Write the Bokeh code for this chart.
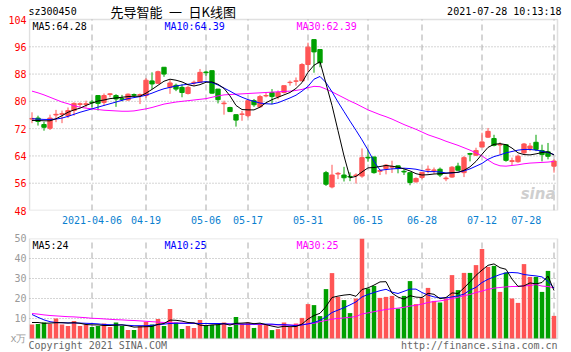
from bokeh.plotting import figure
from bokeh.models import (ColumnDataSource, Range1d, LinearAxis, FixedTicker, Label,
                          BoxAnnotation)
from bokeh.layouts import column
from bokeh.embed import file_html
from bokeh.resources import INLINE

# ---------------- data ----------------
opens = [74.8, 75.1, 73.2, 72.1, 76.0, 76.2, 75.8, 77.3, 79.1, 79.1,
         79.8, 81.7, 79.7, 82.0, 81.7, 80.8, 80.4, 82.0, 81.8, 81.7,
         86.0, 85.3, 90.0, 84.1, 84.7, 84.1, 82.3, 85.4, 85.6, 88.6,
         89.0, 83.6, 79.3, 78.2, 76.1, 76.2, 75.8, 80.2, 78.4, 81.6,
         82.6, 81.4, 82.6, 85.5, 85.9, 86.0, 90.8, 98.1, 95.2, 59.1,
         54.9, 58.7, 58.4, 58.0, 58.2, 58.1, 63.6, 63.7, 59.5, 60.3,
         60.7, 61.1, 59.5, 59.1, 56.4, 57.7, 59.9, 59.7, 60.1, 57.3,
         57.8, 61.0, 59.1, 64.7, 64.2, 66.6, 69.5, 69.1, 67.2, 67.3,
         62.4, 62.3, 64.9, 66.2, 68.0, 65.6, 65.2, 61.0]
highs = [76.8, 75.8, 74.0, 76.1, 77.5, 77.3, 78.2, 79.7, 79.7, 80.2,
         80.4, 81.7, 82.3, 82.4, 82.1, 81.9, 82.3, 82.3, 82.3, 86.8,
         88.5, 89.0, 90.0, 86.3, 85.2, 85.0, 84.6, 86.1, 89.5, 89.0,
         89.0, 83.6, 80.2, 78.4, 76.1, 77.2, 80.2, 80.7, 81.9, 82.6,
         83.6, 83.2, 84.6, 86.1, 87.0, 91.2, 97.2, 98.1, 95.2, 59.6,
         61.4, 59.3, 60.8, 59.2, 58.9, 66.2, 65.8, 63.7, 60.1, 61.6,
         62.6, 61.1, 60.1, 59.1, 57.7, 59.2, 61.2, 60.6, 60.6, 58.0,
         61.0, 62.0, 64.0, 64.9, 66.4, 70.8, 72.2, 70.2, 68.0, 67.3,
         63.5, 64.4, 67.8, 67.8, 70.2, 67.3, 67.8, 63.0]
lows = [73.6, 72.9, 71.4, 71.6, 73.9, 73.6, 75.1, 75.8, 78.2, 78.2,
        78.2, 77.3, 78.7, 81.2, 78.4, 80.0, 80.2, 81.2, 79.2, 81.0,
        83.6, 85.1, 87.2, 82.2, 83.0, 81.2, 82.0, 84.6, 85.6, 87.5,
        82.3, 79.4, 76.1, 76.9, 72.6, 74.3, 75.3, 78.4, 78.2, 81.2,
        79.2, 80.6, 82.3, 84.6, 84.6, 86.0, 88.6, 88.4, 90.0, 55.2,
        54.5, 57.2, 56.5, 56.6, 55.9, 57.6, 62.3, 58.8, 58.4, 58.6,
        59.0, 58.9, 58.4, 55.4, 56.2, 57.2, 58.9, 58.8, 57.8, 56.6,
        57.6, 59.7, 57.8, 62.4, 64.0, 66.6, 69.3, 66.8, 64.4, 62.3,
        61.3, 62.0, 64.4, 65.4, 65.4, 62.4, 63.0, 59.1]
closes = [75.0, 74.1, 72.4, 75.1, 76.2, 76.4, 77.3, 79.4, 79.3, 79.3,
          79.6, 79.4, 81.7, 82.2, 80.7, 80.6, 82.1, 81.8, 82.0, 86.2,
          85.1, 88.7, 88.0, 85.4, 83.6, 82.6, 84.1, 85.6, 88.5, 88.4,
          82.4, 80.5, 79.5, 77.0, 74.5, 76.3, 80.2, 79.0, 81.4, 81.7,
          81.4, 82.6, 84.6, 85.6, 86.0, 90.8, 95.9, 94.5, 91.3, 55.7,
          58.4, 58.9, 57.6, 57.8, 58.4, 63.5, 63.4, 59.1, 59.7, 61.3,
          60.9, 60.3, 59.3, 56.2, 57.4, 59.2, 60.1, 59.9, 58.4, 57.5,
          60.7, 59.8, 63.5, 64.5, 65.6, 68.1, 71.2, 67.1, 67.4, 62.7,
          62.6, 63.9, 67.5, 66.9, 65.9, 64.4, 63.9, 62.5]
ma5 = [74.4, 74.4, 74.3, 74.3, 74.9, 75.8, 76.8, 77.5, 78.0, 78.8,
       79.5, 80.1, 80.4, 80.8, 81.0, 81.2, 81.4, 81.5, 81.5, 82.4,
       83.5, 84.7, 85.9, 86.5, 86.2, 85.7, 84.9, 84.5, 84.9, 85.6,
       85.7, 85.0, 83.8, 81.6, 78.8, 77.6, 77.5, 77.5, 78.3, 79.6,
       80.5, 81.2, 81.9, 82.6, 83.8, 85.5, 88.5, 90.6, 91.6, 85.2,
       78.8, 71.4, 64.0, 57.6, 58.0, 59.3, 60.5, 60.6, 60.9, 61.2,
       61.0, 60.7, 60.2, 59.6, 58.8, 58.4, 58.5, 58.7, 58.8, 58.9,
       59.1, 59.2, 59.8, 60.8, 62.4, 64.5, 66.5, 67.4, 67.6, 67.3,
       66.3, 64.9, 64.4, 64.3, 64.6, 65.0, 65.2, 64.28]
ma10 = [74.9, 74.8, 74.7, 74.7, 74.8, 75.1, 75.6, 76.2, 76.8, 77.3,
        77.8, 78.3, 78.8, 79.3, 79.8, 80.3, 80.8, 81.1, 81.4, 81.8,
        82.4, 83.1, 83.7, 84.1, 84.5, 84.8, 85.0, 85.3, 85.6, 85.8,
        85.5, 84.8, 83.9, 83.0, 82.0, 81.2, 80.5, 80.0, 79.5, 79.3,
        79.2, 79.6, 80.3, 81.0, 81.8, 83.0, 84.4, 86.5, 87.3, 85.5,
        82.8, 79.8, 77.0, 74.2, 71.5, 68.7, 65.7, 62.4, 59.8, 60.0,
        60.2, 60.3, 60.4, 60.3, 60.1, 59.7, 59.4, 59.4, 59.3, 59.0,
        59.0, 59.2, 59.6, 60.2, 61.0, 61.8, 63.0, 63.8, 64.3, 64.9,
        65.3, 65.7, 65.9, 65.9, 65.7, 65.4, 65.0, 64.39]
ma30 = [83.0, 82.5, 81.9, 81.2, 80.5, 79.8, 79.3, 78.7, 78.3, 78.0,
        77.8, 77.6, 77.4, 77.3, 77.2, 77.1, 77.1, 77.2, 77.5, 77.8,
        78.2, 78.7, 79.2, 79.5, 79.8, 80.0, 80.2, 80.4, 80.6, 80.8,
        81.2, 81.6, 81.9, 82.0, 82.1, 82.2, 82.3, 82.4, 82.5, 82.6,
        82.7, 82.8, 82.9, 83.0, 83.2, 83.5, 84.0, 84.4, 84.3, 83.6,
        82.8, 81.9, 81.0, 80.1, 79.3, 78.4, 77.5, 76.8, 76.1, 75.5,
        74.8, 74.0, 73.2, 72.5, 71.8, 71.0, 70.2, 69.6, 69.0, 68.3,
        67.7, 67.1, 66.4, 65.7, 64.9, 64.0, 62.8, 61.7, 61.1, 61.0,
        61.2, 61.4, 61.7, 61.9, 62.0, 62.1, 62.2, 62.39]
volumes = [7.0, 7.3, 8.0, 7.3, 10.0, 7.0, 6.3, 8.7, 6.2, 7.0,
           5.7, 6.3, 7.5, 5.8, 8.0, 6.3, 4.2, 4.2, 6.3, 8.3,
           7.0, 9.7, 6.3, 14.7, 8.0, 4.7, 6.3, 5.3, 9.2, 6.3,
           6.7, 7.0, 8.0, 5.7, 10.7, 7.3, 8.0, 5.3, 7.0, 6.7,
           4.2, 4.7, 8.0, 5.7, 7.5, 10.3, 17.2, 16.7, 11.2, 24.7,
           32.7, 20.8, 19.2, 12.7, 20.0, 50.0, 25.0, 26.3, 20.3, 20.8,
           21.3, 15.0, 21.3, 28.7, 17.2, 20.3, 25.3, 18.8, 18.0, 20.0,
           31.7, 24.2, 32.8, 32.8, 36.7, 44.7, 35.8, 36.3, 23.3, 33.0,
           20.0, 17.8, 37.2, 30.8, 30.8, 23.3, 33.8, 11.3]
vma5 = [8.0, 8.0, 7.6, 7.7, 7.9, 7.9, 7.7, 7.9, 7.6, 7.0,
        6.8, 6.8, 6.5, 6.5, 6.7, 6.8, 6.4, 5.7, 5.8, 5.9,
        6.0, 7.1, 7.5, 9.2, 9.1, 8.7, 8.0, 7.8, 6.7, 6.4,
        6.8, 6.9, 7.4, 6.7, 7.6, 7.7, 7.9, 7.4, 7.7, 6.9,
        6.2, 5.6, 6.1, 5.9, 6.0, 7.2, 9.7, 11.5, 12.6, 16.0,
        20.5, 21.2, 21.7, 22.0, 21.1, 24.5, 25.3, 26.7, 28.3, 28.4,
        22.7, 20.7, 19.7, 21.4, 20.7, 20.5, 22.6, 22.1, 19.9, 20.5,
        22.8, 22.5, 25.3, 28.3, 31.6, 34.2, 36.6, 37.3, 35.4, 34.6,
        29.7, 26.1, 26.3, 27.8, 27.3, 28.0, 31.2, 24.0]
vma10 = [12.0, 10.6, 9.3, 8.4, 8.0, 7.9, 7.8, 7.8, 7.7, 7.6,
         7.5, 7.3, 7.0, 6.9, 6.8, 6.8, 6.6, 6.4, 6.4, 6.4,
         6.6, 6.9, 7.2, 7.5, 7.6, 7.6, 7.6, 7.6, 7.5, 7.5,
         7.5, 7.5, 7.4, 7.2, 7.4, 7.2, 7.2, 7.2, 7.3, 7.2,
         7.2, 6.9, 6.9, 6.7, 6.4, 6.8, 7.3, 8.0, 9.1, 10.8,
         13.0, 14.2, 15.4, 16.8, 18.3, 20.8, 22.0, 23.0, 23.9, 24.6,
         23.2, 22.5, 23.6, 24.7, 24.7, 23.0, 21.7, 20.8, 20.3, 20.3,
         20.8, 21.3, 22.2, 24.2, 25.6, 28.0, 29.6, 30.8, 32.0, 32.8,
         33.0, 32.8, 32.0, 31.6, 31.3, 30.8, 28.6, 25.2]
vma30 = [12.5, 12.2, 11.8, 11.5, 11.3, 11.1, 10.9, 10.8, 10.6, 10.4,
         10.1, 10.0, 9.8, 9.6, 9.4, 9.3, 9.1, 9.0, 8.8, 8.6,
         8.4, 8.2, 8.0, 7.9, 7.8, 7.7, 7.6, 7.6, 7.5, 7.5,
         7.4, 7.4, 7.3, 7.3, 7.2, 7.2, 7.1, 7.1, 7.0, 7.0,
         6.9, 6.8, 6.8, 6.7, 6.7, 6.9, 7.3, 7.6, 8.4, 9.0,
         9.7, 10.0, 10.3, 10.6, 11.0, 12.3, 12.8, 13.4, 14.0, 14.5,
         14.9, 15.2, 15.6, 16.2, 16.6, 17.2, 18.0, 18.5, 18.8, 19.3,
         20.0, 20.6, 21.4, 22.0, 23.0, 23.7, 24.6, 25.2, 25.5, 25.8,
         26.0, 26.0, 26.3, 26.5, 27.0, 26.2, 26.0, 25.3]

date_ticks = [10, 19, 29, 36, 46, 56, 65, 75, 87]
date_labels = ["2021-04-06", "04-19", "05-06", "05-17", "05-31",
               "06-15", "06-28", "07-12", "07-28"]
price_ticks = [48, 56, 64, 72, 80, 88, 96, 104]
vol_ticks = [0, 10, 20, 30, 40, 50]

# ---------------- styling ----------------
RED = "#ff5555"
GREEN = "#00a000"
GRID = "#aaaaaa"
BORDER = "#999999"
DATE_BLUE = "#0a7fd0"
MONO = "DejaVu Sans Mono"
CJK = "Noto Sans CJK SC"

n = len(closes)
idx = list(range(n))
colors = [RED if c >= o else GREEN for o, c in zip(opens, closes)]
tops = [max(o, c) for o, c in zip(opens, closes)]
bots = [min(o, c) for o, c in zip(opens, closes)]

src = ColumnDataSource(dict(x=idx, o=opens, h=highs, l=lows, c=closes,
                            top=tops, bot=bots, color=colors, v=volumes,
                            ma5=ma5, ma10=ma10, ma30=ma30,
                            vma5=vma5, vma10=vma10, vma30=vma30))

# canvas geometry
X0 = 31.5          # pixel x of trading day 0
PX = 6.0           # pixels per trading day
FL = 28            # frame left (canvas px)
BOX_L, BOX_R = 29, 557


def xd(px):
    return (px - X0) / PX


x_range = Range1d(xd(FL), xd(571))
xl, xr = xd(BOX_L), xd(BOX_R)

# price panel: 104 at y=19, 48 at y=210 ; frame spans y 0..210
PPU = 191.0 / 56.0
p_top = 104 + 19 / PPU

# volume panel: 50 at y=238, 0 at y=338 ; frame spans y 238..352
v_bot = 0 - 14 / 2.0


def lab(fig, fb, px, py, text, color="#000000", align="left", font=MONO,
        size="10px", style="normal"):
    fig.add_layout(Label(x=px - FL, y=fb - py, x_units="screen", y_units="screen",
                         text=text, text_color=color, text_align=align,
                         text_baseline="middle", text_font=font, text_font_size=size,
                         text_font_style=style))


def style_axis(ax, color):
    ax.axis_line_color = None
    ax.major_tick_line_color = None
    ax.minor_tick_line_color = None
    ax.major_tick_out = 0
    ax.major_label_text_color = color
    ax.major_label_text_font = MONO
    ax.major_label_text_font_size = "10px"


def base(height, y_range, top, bottom):
    f = figure(width=571, height=height, x_range=x_range, y_range=y_range,
               output_backend="svg", toolbar_location=None, title=None,
               x_axis_location=None, y_axis_location=None,
               min_border_left=FL, min_border_right=0,
               min_border_top=top, min_border_bottom=bottom)
    f.outline_line_color = None
    f.background_fill_color = "white"
    f.border_fill_color = "white"
    f.xgrid.visible = False
    f.ygrid.visible = False
    return f


# ---------------- price panel ----------------
p1 = base(232, Range1d(48, p_top), 0, 22)

hgrid = price_ticks[1:-1]
p1.segment(x0=[xl] * len(hgrid), y0=hgrid, x1=[xr] * len(hgrid), y1=hgrid,
           line_color=GRID, line_dash="1 2", line_width=1)
p1.segment(x0=date_ticks, y0=[48] * len(date_ticks), x1=date_ticks,
           y1=[104] * len(date_ticks), line_color=GRID, line_dash="6 4", line_width=1)

yax = LinearAxis(ticker=FixedTicker(ticks=price_ticks))
style_axis(yax, "#ff0000")
yax.major_label_standoff = 2
p1.add_layout(yax, "left")

overrides = {t: s for t, s in zip(date_ticks, date_labels)}
overrides[date_ticks[-1]] = date_labels[-1] + "\u00a0" * 5
xax = LinearAxis(ticker=FixedTicker(ticks=date_ticks), major_label_overrides=overrides)
style_axis(xax, DATE_BLUE)
xax.major_label_standoff = 4
p1.add_layout(xax, "below")

p1.segment(x0="x", y0="l", x1="x", y1="h", line_color="color", line_width=1, source=src)
p1.vbar(x="x", top="top", bottom="bot", width=0.72, fill_color="color",
        line_color="color", line_width=1, source=src)
p1.line("x", "ma30", line_color="#ff00ff", line_width=1, source=src)
p1.line("x", "ma10", line_color="#0000ff", line_width=1, source=src)
p1.line("x", "ma5", line_color="#000000", line_width=1, source=src)

p1.add_layout(BoxAnnotation(left=xl, right=xr, bottom=48, top=104, fill_alpha=0,
                            line_color=BORDER, line_width=1.5))

F1B = 210
lab(p1, F1B, 28, 11, "sz300450")
lab(p1, F1B, 110, 10.5, "先导智能\u2002一\u2002日K线图", font=CJK, size="13px")
lab(p1, F1B, 561, 11, "2021-07-28 10:13:18", align="right")
lab(p1, F1B, 32, 26, "MA5:%.2f" % ma5[-1])
lab(p1, F1B, 164, 26, "MA10:%.2f" % ma10[-1], color="#0000ff")
lab(p1, F1B, 296, 26, "MA30:%.2f" % ma30[-1], color="#ff00ff")
lab(p1, F1B, 555, 193, "sina", color="#cfcfcf", align="right", font="DejaVu Sans",
    size="15px", style="bold italic")

# ---------------- volume panel ----------------
p2 = base(120, Range1d(v_bot, 50), 6, 0)

vgrid = vol_ticks[1:-1]
p2.segment(x0=[xl] * len(vgrid), y0=vgrid, x1=[xr] * len(vgrid), y1=vgrid,
           line_color=GRID, line_dash="1 2", line_width=1)
p2.segment(x0=date_ticks, y0=[0] * len(date_ticks), x1=date_ticks,
           y1=[50] * len(date_ticks), line_color=GRID, line_dash="6 4", line_width=1)

vax = LinearAxis(ticker=FixedTicker(ticks=vol_ticks), major_label_overrides={0: "x万"})
style_axis(vax, "#999999")
vax.major_label_standoff = 2
p2.add_layout(vax, "left")

p2.vbar(x="x", top="v", bottom=0, width=0.75, fill_color="color", line_color=None, source=src)
p2.line("x", "vma30", line_color="#ff00ff", line_width=1, source=src)
p2.line("x", "vma10", line_color="#0000ff", line_width=1, source=src)
p2.line("x", "vma5", line_color="#000000", line_width=1, source=src)

p2.add_layout(BoxAnnotation(left=xl, right=xr, bottom=0, top=50, fill_alpha=0,
                            line_color=BORDER, line_width=1.5))

F2B = 352 - 232   # frame bottom in panel-local px
O2 = 232          # panel top in canvas px
lab(p2, F2B, 32, 245 - O2, "MA5:%d" % int(vma5[-1]))
lab(p2, F2B, 164, 245 - O2, "MA10:%d" % int(vma10[-1]), color="#0000ff")
lab(p2, F2B, 296, 245 - O2, "MA30:%d" % int(vma30[-1]), color="#ff00ff")
lab(p2, F2B, 28, 345 - O2, "Copyright 2021 SINA.COM", color="#666666")
lab(p2, F2B, 557, 345 - O2, "http://finance.sina.com.cn", color="#666666", align="right")

layout = column(p1, p2)
open("out.html", "w").write(file_html(layout, INLINE))
